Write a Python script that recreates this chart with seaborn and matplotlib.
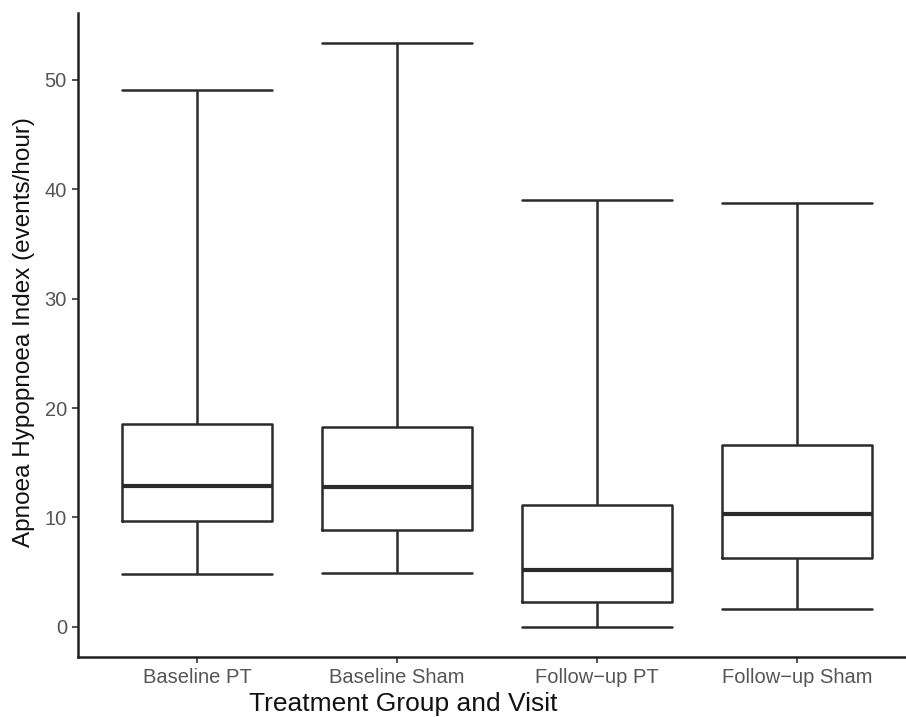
import numpy as np
import pandas as pd
import seaborn as sns
import matplotlib.pyplot as plt

groups = ["Baseline PT", "Baseline Sham", "Follow\u2212up PT", "Follow\u2212up Sham"]
whisker_low = [4.85, 4.95, 0.0, 1.6]
q1 = [9.7, 8.85, 2.3, 6.3]
median = [12.9, 12.8, 5.2, 10.3]
q3 = [18.55, 18.25, 11.15, 16.6]
whisker_high = [49.1, 53.4, 39.0, 38.7]

# five points per group: min, q1, median, q3, max -> percentiles land exactly on them
rows = []
for i, g in enumerate(groups):
    for v in [whisker_low[i], q1[i], median[i], q3[i], whisker_high[i]]:
        rows.append({"group": g, "ahi": v})
df = pd.DataFrame(rows)

sns.set_style("white")
plt.rcParams["font.family"] = ["Liberation Sans", "DejaVu Sans"]

fig = plt.figure(figsize=(9.06, 7.17), dpi=100)
ax = fig.add_axes([78 / 906, 60 / 717, (906 - 78) / 906, (657 - 13) / 717])

dark = "#2b2b2b"
sns.boxplot(data=df, x="group", y="ahi", order=groups, whis=(0, 100), width=0.75,
            fill=False, color=dark, linewidth=1.8, capwidths=0.75,
            medianprops={"linewidth": 3.0, "color": dark},
            showfliers=False, ax=ax)

ax.set_xlim(-0.595, 3.545)
ax.set_ylim(-2.75, 56.1)
ax.set_yticks([0, 10, 20, 30, 40, 50])

for side in ["top", "right"]:
    ax.spines[side].set_visible(False)
for side in ["left", "bottom"]:
    ax.spines[side].set_color("#222222")
    ax.spines[side].set_linewidth(1.8)

ax.tick_params(axis="both", which="both", length=4, width=1.2, color="#333333",
               labelcolor="#555555", labelsize=14.5, left=True, bottom=True, pad=4)
ax.set_xlabel("Treatment Group and Visit", fontsize=19, color="#111111")
ax.set_ylabel("Apnoea Hypopnoea Index (events/hour)", fontsize=17.5, color="#111111")
ax.xaxis.set_label_coords(0.3925, -0.054)
ax.yaxis.set_label_coords(-0.052, 0.505)

fig.savefig("out.png", dpi=100)
